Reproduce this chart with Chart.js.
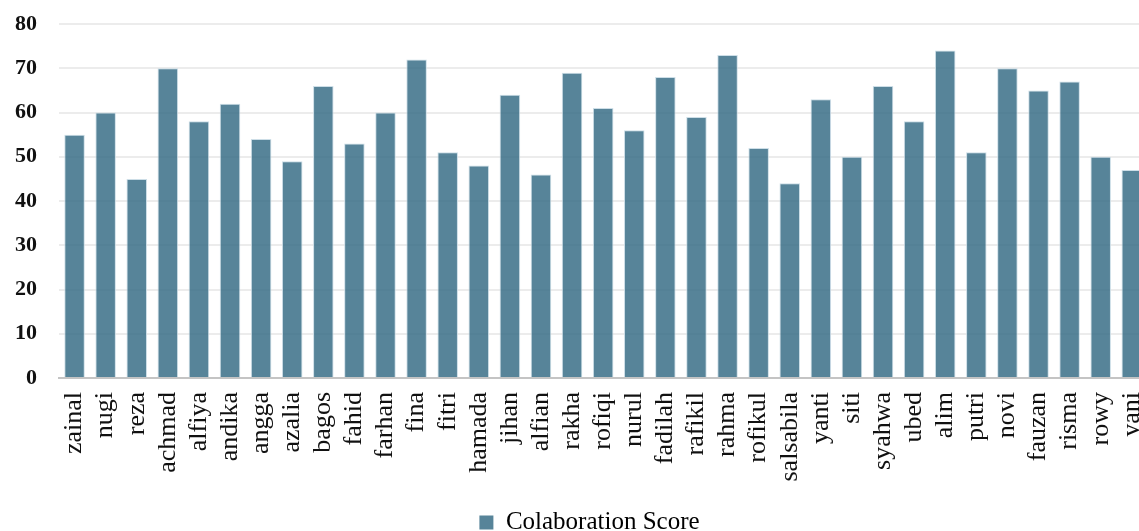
<!DOCTYPE html>
<html>
<head>
<meta charset="utf-8">
<script src="https://cdn.jsdelivr.net/npm/chart.js@4.4.1/dist/chart.umd.min.js"></script>
<style>
  html, body { margin: 0; padding: 0; background: #ffffff; overflow: hidden; }
  canvas { display: block; }
</style>
</head>
<body>
<canvas id="chart" width="1177" height="531"></canvas>
<script>
// Student names shown along the horizontal axis
const students = [
  'zainal', 'nugi', 'reza', 'achmad', 'alfiya', 'andika', 'angga', 'azalia',
  'bagos', 'fahid', 'farhan', 'fina', 'fitri', 'hamada', 'jihan', 'alfian',
  'rakha', 'rofiqi', 'nurul', 'fadilah', 'rafikil', 'rahma', 'rofikul',
  'salsabila', 'yanti', 'siti', 'syahwa', 'ubed', 'alim', 'putri', 'novi',
  'fauzan', 'risma', 'rowy', 'yani'
];

// Collaboration score for each student
const collaborationScores = [
  55, 60, 45, 70, 58, 62, 54, 49,
  66, 53, 60, 72, 51, 48, 64, 46,
  69, 61, 56, 68, 59, 73, 52,
  44, 63, 50, 66, 58, 74, 51, 70,
  65, 67, 50, 47
];

// Value axis ticks
const scoreTicks = [0, 10, 20, 30, 40, 50, 60, 70, 80];

const serif = '"Liberation Serif", "DejaVu Serif", serif';
const barFill = 'rgba(58,110,135,0.85)';

new Chart(document.getElementById('chart'), {
  type: 'bar',
  data: {
    labels: students,
    datasets: [{
      label: 'Colaboration Score',
      data: collaborationScores,
      backgroundColor: barFill,
      borderColor: 'rgba(200,218,228,0.9)',
      borderWidth: 1,
      categoryPercentage: 1.0,
      barPercentage: 0.66
    }]
  },
  options: {
    responsive: false,
    animation: false,
    layout: { padding: { top: 24, right: 0, bottom: -14, left: 2 } },
    plugins: {
      tooltip: { enabled: false },
      legend: {
        position: 'bottom',
        labels: {
          font: { family: serif, size: 25 },
          color: '#111111',
          boxWidth: 14,
          boxHeight: 14,
          padding: 6,
          generateLabels(chart) {
            const ds = chart.data.datasets[0];
            return [{ text: ds.label, fillStyle: barFill, strokeStyle: barFill, lineWidth: 0, datasetIndex: 0 }];
          }
        }
      }
    },
    scales: {
      x: {
        grid: { display: false, drawTicks: false },
        border: { display: true, color: '#c4c4c4', width: 2 },
        // fixed band for the rotated names, leaving room for the legend
        afterFit(scale) { scale.height = 126; },
        ticks: {
          font: { family: serif, size: 26 },
          color: '#111111',
          minRotation: 90, maxRotation: 90, autoSkip: false, padding: 14
        }
      },
      y: {
        min: 0, max: 80,
        afterBuildTicks(scale) { scale.ticks = scoreTicks.map(v => ({ value: v })); },
        afterFit(scale) { scale.width = 57; },
        // invisible tick marks keep the labels clear of the plot
        grid: { color: '#ececec', lineWidth: 2, drawTicks: true, tickLength: 22, tickColor: 'rgba(0,0,0,0)' },
        border: { display: false },
        ticks: { font: { family: serif, size: 22, weight: 'bold' }, color: '#111111', padding: 0 }
      }
    }
  }
});
</script>
</body>
</html>
